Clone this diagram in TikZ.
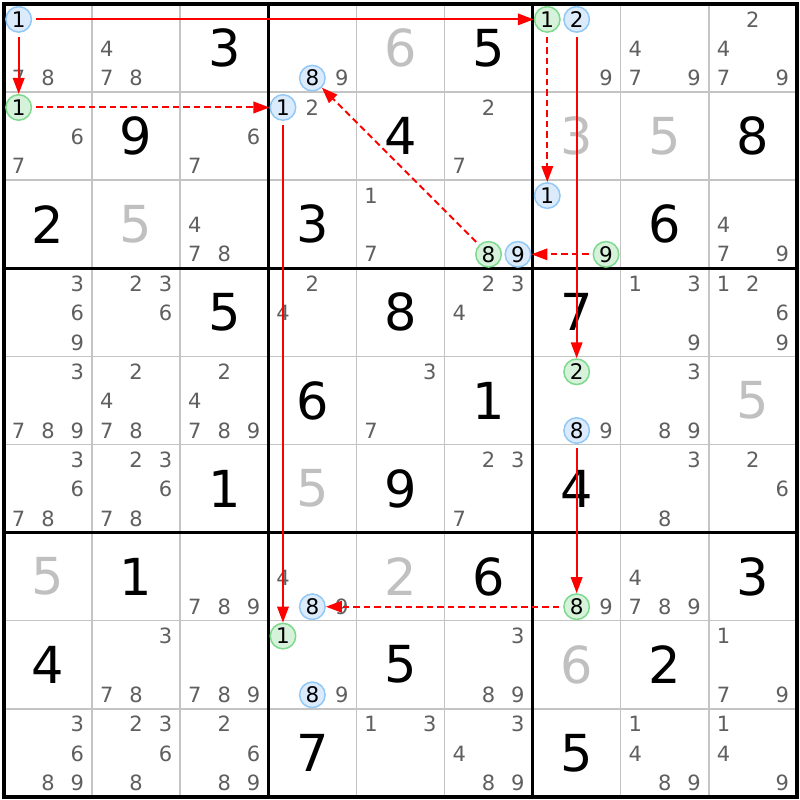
\documentclass[tikz,border=0pt]{standalone}
\usepackage{fontspec}
\setmainfont{DejaVu Sans}
\usetikzlibrary{arrows.meta}
\definecolor{candgray}{HTML}{5F5F5F}
\definecolor{solvgray}{HTML}{C0C0C0}
\definecolor{gridgray}{HTML}{C4C4C4}
\definecolor{bfill}{HTML}{DCEBFB}
\definecolor{bline}{HTML}{92C8F5}
\definecolor{gfill}{HTML}{D6F2DB}
\definecolor{gline}{HTML}{7ED98E}
\definecolor{arrred}{HTML}{FF0000}
\newcommand\sdpos[3]{\pgfmathsetmacro\sdx{4+(#2-1)*88.1+14.68+mod(#3-1,3)*29.37}\pgfmathsetmacro\sdy{4.7+(#1-1)*88.1+14.68+floor((#3-1)/3)*29.37}}
\newcommand\sdcand[3]{\sdpos{#1}{#2}{#3}\node[candtxt] (n#1#2#3) at (\sdx,\sdy) {#3};}
\newcommand\sdcell[3]{\foreach \dd in {#3}{\sdcand{#1}{#2}{\dd}}}
\newcommand\sdblue[3]{\sdpos{#1}{#2}{#3}\node[bluec] (n#1#2#3) at (\sdx,\sdy) {#3};}
\newcommand\sdgreen[3]{\sdpos{#1}{#2}{#3}\node[greenc] (n#1#2#3) at (\sdx,\sdy) {#3};}
\newcommand\sdgiven[3]{\pgfmathsetmacro\sdx{4+(#2-0.5)*88.1}\pgfmathsetmacro\sdy{4+(#1-0.5)*88.1}\node[giventxt] (g#1#2) at (\sdx,\sdy) {#3};}
\newcommand\sdsolved[3]{\pgfmathsetmacro\sdx{4+(#2-0.5)*88.1}\pgfmathsetmacro\sdy{4+(#1-0.5)*88.1}\node[solvtxt] (g#1#2) at (\sdx,\sdy) {#3};}
\begin{document}
\begin{tikzpicture}[x=1pt,y=-1pt,
  candtxt/.style={inner sep=0pt, text=candgray, font=\fontsize{21}{21}\selectfont},
  giventxt/.style={inner sep=0pt, text=black, font=\fontsize{51}{51}\selectfont},
  solvtxt/.style={inner sep=0pt, text=solvgray, font=\fontsize{51}{51}\selectfont},
  circcand/.style={circle, line width=1.5pt, minimum size=25.5pt, inner sep=0pt, text=black, font=\fontsize{21.5}{21.5}\selectfont},
  bluec/.style={circcand, draw=bline, fill=bfill},
  greenc/.style={circcand, draw=gline, fill=gfill},
  thinline/.style={draw=gridgray, line width=1.5pt},
  thickline/.style={draw=black, line width=3pt},
  arr/.style={draw=arrred, line width=2pt, -{Triangle[length=16pt,width=11.5pt]}, shorten <=4pt},
  dasharr/.style={arr, dash pattern=on 6.5pt off 4pt}]
\useasboundingbox (0,0) rectangle (800,800);
\fill[white] (0,0) rectangle (800,800);
% grid
\foreach \i in {1,2,4,5,7,8}{
  \draw[thinline] ({4+\i*88.1},4) -- ({4+\i*88.1},796.9);
  \draw[thinline] (4,{4+\i*88.1}) -- (796.9,{4+\i*88.1});
}
\foreach \i in {3,6}{
  \draw[thickline] ({4+\i*88.1},4) -- ({4+\i*88.1},796.9);
  \draw[thickline] (4,{4+\i*88.1}) -- (796.9,{4+\i*88.1});
}
\draw[draw=black, line width=4pt] (4,4) rectangle (796.9,796.9);
% row 1
\sdblue{1}{1}{1} \sdcell{1}{1}{7,8}
\sdcell{1}{2}{4,7,8}
\sdgiven{1}{3}{3}
\sdblue{1}{4}{8} \sdcell{1}{4}{9}
\sdsolved{1}{5}{6}
\sdgiven{1}{6}{5}
\sdgreen{1}{7}{1} \sdblue{1}{7}{2} \sdcell{1}{7}{9}
\sdcell{1}{8}{4,7,9}
\sdcell{1}{9}{2,4,7,9}
% row 2
\sdgreen{2}{1}{1} \sdcell{2}{1}{6,7}
\sdgiven{2}{2}{9}
\sdcell{2}{3}{6,7}
\sdblue{2}{4}{1} \sdcell{2}{4}{2}
\sdgiven{2}{5}{4}
\sdcell{2}{6}{2,7}
\sdsolved{2}{7}{3}
\sdsolved{2}{8}{5}
\sdgiven{2}{9}{8}
% row 3
\sdgiven{3}{1}{2}
\sdsolved{3}{2}{5}
\sdcell{3}{3}{4,7,8}
\sdgiven{3}{4}{3}
\sdcell{3}{5}{1,7}
\sdgreen{3}{6}{8} \sdblue{3}{6}{9}
\sdblue{3}{7}{1} \sdgreen{3}{7}{9}
\sdgiven{3}{8}{6}
\sdcell{3}{9}{4,7,9}
% row 4
\sdcell{4}{1}{3,6,9}
\sdcell{4}{2}{2,3,6}
\sdgiven{4}{3}{5}
\sdcell{4}{4}{2,4}
\sdgiven{4}{5}{8}
\sdcell{4}{6}{2,3,4}
\sdgiven{4}{7}{7}
\sdcell{4}{8}{1,3,9}
\sdcell{4}{9}{1,2,6,9}
% row 5
\sdcell{5}{1}{3,7,8,9}
\sdcell{5}{2}{2,4,7,8}
\sdcell{5}{3}{2,4,7,8,9}
\sdgiven{5}{4}{6}
\sdcell{5}{5}{3,7}
\sdgiven{5}{6}{1}
\sdgreen{5}{7}{2} \sdblue{5}{7}{8} \sdcell{5}{7}{9}
\sdcell{5}{8}{3,8,9}
\sdsolved{5}{9}{5}
% row 6
\sdcell{6}{1}{3,6,7,8}
\sdcell{6}{2}{2,3,6,7,8}
\sdgiven{6}{3}{1}
\sdsolved{6}{4}{5}
\sdgiven{6}{5}{9}
\sdcell{6}{6}{2,3,7}
\sdgiven{6}{7}{4}
\sdcell{6}{8}{3,8}
\sdcell{6}{9}{2,6}
% row 7
\sdsolved{7}{1}{5}
\sdgiven{7}{2}{1}
\sdcell{7}{3}{7,8,9}
\sdcell{7}{4}{4,9} \sdblue{7}{4}{8}
\sdsolved{7}{5}{2}
\sdgiven{7}{6}{6}
\sdgreen{7}{7}{8} \sdcell{7}{7}{9}
\sdcell{7}{8}{4,7,8,9}
\sdgiven{7}{9}{3}
% row 8
\sdgiven{8}{1}{4}
\sdcell{8}{2}{3,7,8}
\sdcell{8}{3}{7,8,9}
\sdgreen{8}{4}{1} \sdblue{8}{4}{8} \sdcell{8}{4}{9}
\sdgiven{8}{5}{5}
\sdcell{8}{6}{3,8,9}
\sdsolved{8}{7}{6}
\sdgiven{8}{8}{2}
\sdcell{8}{9}{1,7,9}
% row 9
\sdcell{9}{1}{3,6,8,9}
\sdcell{9}{2}{2,3,6,8}
\sdcell{9}{3}{2,6,8,9}
\sdgiven{9}{4}{7}
\sdcell{9}{5}{1,3}
\sdcell{9}{6}{3,4,8,9}
\sdgiven{9}{7}{5}
\sdcell{9}{8}{1,4,8,9}
\sdcell{9}{9}{1,4,9}
% arrows
\draw[arr] (n111) -- (n171);
\draw[arr] (n111) -- (n211);
\draw[dasharr] (n211) -- (n241);
\draw[arr] (n241) -- (n841);
\draw[dasharr] (n171) -- (n371);
\draw[arr] (n172) -- (n572);
\draw[dasharr] (n379) -- (n369);
\draw[dasharr] (n368) -- (n148);
\draw[arr] (n578) -- (n778);
\draw[dasharr] (n778) -- (n748);
\end{tikzpicture}
\end{document}
